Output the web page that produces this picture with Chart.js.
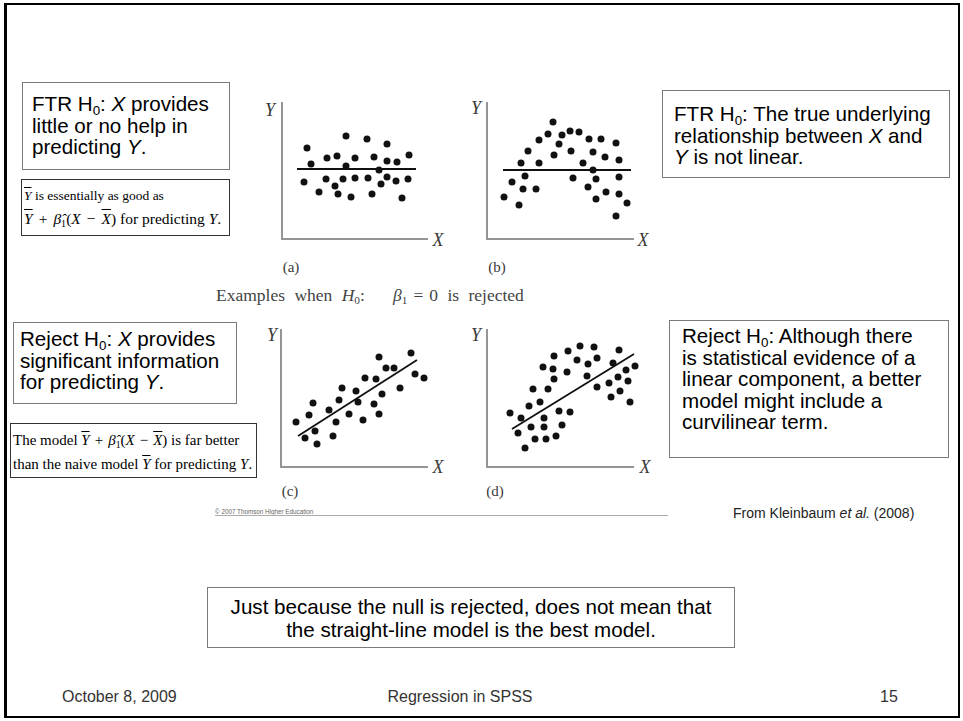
<!DOCTYPE html>
<html>
<head>
<meta charset="utf-8">
<script src="https://cdn.jsdelivr.net/npm/chart.js@4"></script>
<style>
  body { margin: 0; background: #fff; }
  #slide { position: relative; width: 963px; height: 721px; overflow: hidden; background: #fff; }
  .frame { position: absolute; left: 4px; top: 3px; width: 956px; height: 715px; box-sizing: border-box;
           border: 2px solid #000; border-left-width: 3px; }
  .box { position: absolute; box-sizing: border-box; border: 1px solid #7a7a7a; background: #fff;
         font-family: "Liberation Sans", Arial, sans-serif; font-size: 20.6px; line-height: 21.5px; color: #000; }
  .fbox { position: absolute; box-sizing: border-box; border: 1px solid #333; background: #fff;
          font-family: "Liberation Serif", "Times New Roman", serif; font-size: 15px; line-height: 24px; color: #000;
          padding-left: 2px; white-space: nowrap; }
  sub { font-size: 0.65em; vertical-align: -0.3em; line-height: 0; }
  .ov { text-decoration: overline; font-style: italic; }
  .op { margin: 0 5px; }
  .lab { position: absolute; font-family: "Liberation Serif", "Times New Roman", serif; color: #3a3a3a; white-space: nowrap; }
  .axl { font-style: italic; font-size: 18px; transform: translate(-50%, -50%); }
  .pl { font-size: 15px; transform: translate(-50%, -50%); }
  .txt { position: absolute; font-family: "Liberation Sans", Arial, sans-serif; color: #222; white-space: nowrap; }
  canvas { position: absolute; }
</style>
</head>
<body>
<div id="slide">
  <div class="frame"></div>

  <div class="box" style="left:22px;top:82px;width:208px;height:88px;padding:10px 0 0 9px;">
    FTR H<sub>0</sub>: <i>X</i> provides<br>little or no help in<br>predicting <i>Y</i>.
  </div>
  <div class="fbox" style="left:21px;top:179px;width:209px;height:57px;padding-top:4px;line-height:23px;">
    <span style="font-size:13.5px;"><span class="ov">Y</span> is essentially as good as</span><br><span style="font-size:15.5px;"><span class="ov">Y</span><span class="op" style="margin:0 6px;">+</span><i>β̂</i><sub>1</sub>(<i>X</i><span class="op" style="margin:0 6px;">−</span><span class="ov">X</span>) for predicting <i>Y</i>.</span>
  </div>

  <div class="box" style="left:662px;top:90px;width:288px;height:88px;padding:12px 0 0 11px;">
    FTR H<sub>0</sub>: The true underlying<br>relationship between <i>X</i> and<br><i>Y</i> is not linear.
  </div>

  <div class="box" style="left:13px;top:322px;width:224px;height:82px;padding:5px 0 0 6px;">
    Reject H<sub>0</sub>: <i>X</i> provides<br>significant information<br>for predicting <i>Y</i>.
  </div>
  <div class="fbox" style="left:10px;top:423px;width:247px;height:55px;padding-top:4px;font-size:15px;">
    The model <span class="ov">Y</span><span class="op">+</span><i>β̂</i><sub>1</sub>(<i>X</i><span class="op">−</span><span class="ov">X</span>) is far better<br>than the naive model <span class="ov">Y</span> for predicting <i>Y</i>.
  </div>

  <div class="box" style="left:669px;top:320px;width:280px;height:138px;padding:4px 0 0 12px;">
    Reject H<sub>0</sub>: Although there<br>is statistical evidence of a<br>linear component, a better<br>model might include a<br>curvilinear term.
  </div>

  <div class="lab" style="left:216px;top:285px;font-size:17.5px;color:#444;word-spacing:5px;">Examples when <i>H</i><sub>0</sub>:&nbsp;&nbsp; <i>β</i><sub>1</sub><span style="margin:0 6px;">=</span>0 is rejected</div>

  <div class="lab axl" style="left:270px;top:110px;">Y</div>
  <div class="lab axl" style="left:438px;top:240px;">X</div>
  <div class="lab pl" style="left:291px;top:267px;">(a)</div>
  <div class="lab axl" style="left:476px;top:108px;">Y</div>
  <div class="lab axl" style="left:643px;top:240px;">X</div>
  <div class="lab pl" style="left:497px;top:267px;">(b)</div>
  <div class="lab axl" style="left:272px;top:335px;">Y</div>
  <div class="lab axl" style="left:438px;top:467px;">X</div>
  <div class="lab pl" style="left:290px;top:491px;">(c)</div>
  <div class="lab axl" style="left:476px;top:335px;">Y</div>
  <div class="lab axl" style="left:645px;top:467px;">X</div>
  <div class="lab pl" style="left:495px;top:491px;">(d)</div>

  <div class="txt" style="left:215px;top:508px;font-size:6.3px;color:#666;">© 2007 Thomson Higher Education</div>
  <div style="position:absolute;left:215px;top:515px;width:453px;height:1px;background:#aaa;"></div>

  <div class="txt" style="left:733px;top:505px;font-size:14px;color:#222;">From Kleinbaum <i>et al.</i> (2008)</div>

  <div class="box" style="left:207px;top:587px;width:528px;height:61px;padding-top:7px;text-align:center;line-height:23px;">
    Just because the null is rejected, does not mean that<br>the straight-line model is the best model.
  </div>

  <div class="txt" style="left:62px;top:688px;font-size:16px;color:#333;">October 8, 2009</div>
  <div class="txt" style="left:460px;top:688px;font-size:16px;color:#333;transform:translateX(-50%);">Regression in SPSS</div>
  <div class="txt" style="left:880px;top:688px;font-size:16px;color:#333;">15</div>

  <canvas id="chartA"></canvas>
  <canvas id="chartB"></canvas>
  <canvas id="chartC"></canvas>
  <canvas id="chartD"></canvas>
</div>

<script>
// (a) no relationship: flat cloud
const aX = [25, 29, 22, 37, 45, 44, 55, 53, 56, 64, 64, 61, 69, 73, 73, 85, 86, 90, 92, 97, 99, 105, 105, 105, 114, 115, 120, 127, 126];
const aY = [91, 75, 57, 47, 81, 60, 83, 53, 45, 103, 73, 60, 42, 81, 61, 100, 61, 45, 82, 69, 55, 95, 78, 62, 58, 77, 41, 84, 60];
const aLineX = [15, 134];
const aLineY = [70, 70];

// (b) curved relationship, flat fit
const bX = [17, 25, 32, 34, 36, 38, 41, 49, 52, 52, 61, 66, 67, 72, 75, 83, 84, 86, 92, 96, 101, 102, 106, 106, 109, 109, 114, 118, 119, 129, 132, 132, 132, 140, 129];
const bY = [42, 57, 34, 76, 50, 63, 88, 50, 76, 99, 105, 117, 84, 95, 104, 108, 88, 61, 107, 76, 52, 100, 87, 69, 60, 40, 100, 82, 47, 96, 79, 62, 45, 36, 23];
const bLineX = [16, 144];
const bLineY = [69, 69];

// (c) linear relationship
const cX = [15, 24, 28, 32, 34, 36, 48, 52, 55, 58, 61, 68, 75, 77, 82, 84, 93, 95, 98, 98, 101, 105, 113, 119, 130, 134, 143];
const cY = [45, 29, 52, 64, 36, 23, 57, 31, 45, 67, 79, 53, 76, 65, 47, 89, 63, 88, 53, 110, 73, 99, 99, 79, 114, 93, 89];
const cLineX = [17, 136];
const cLineY = [31, 107];

// (d) curvilinear relationship, linear fit
const dX = [23, 31, 34, 38, 42, 44, 46, 48, 53, 56, 57, 57, 59, 61, 66, 67, 67, 69, 72, 75, 80, 81, 83, 90, 93, 100, 101, 107, 110, 110, 122, 124, 126, 131, 132, 133, 139, 141, 143, 148, 149, 150, 153, 160];
const dY = [54, 34, 49, 19, 61, 40, 78, 28, 65, 100, 49, 40, 28, 78, 98, 88, 111, 31, 56, 42, 95, 116, 55, 107, 121, 91, 103, 120, 109, 80, 84, 70, 104, 90, 117, 76, 97, 86, 65, 101, 80, 91, 72, 90];
const dLineX = [25, 147];
const dLineY = [38, 113];

const pad = {left: 10, right: 25, top: 10, bottom: 10};

function toPoints(xs, ys) {
    return xs.map((x, i) => ({x: x, y: ys[i]}));
}

function makePanel(id, left, top, w, h, xs, ys, lx, ly) {
    const cv = document.getElementById(id);
    cv.width = w + pad.left + pad.right;
    cv.height = h + pad.top + pad.bottom;
    cv.style.left = (left - pad.left) + 'px';
    cv.style.top = (top - pad.top) + 'px';

    const axisOpts = (max) => ({
        type: 'linear',
        min: 0,
        max: max,
        ticks: {display: false},
        grid: {display: false, drawTicks: false},
        border: {display: true, color: '#959595', width: 2}
    });

    new Chart(cv.getContext('2d'), {
        type: 'scatter',
        data: {
            datasets: [
                {
                    data: toPoints(xs, ys),
                    pointRadius: 3.5,
                    pointBackgroundColor: '#111',
                    pointBorderWidth: 0,
                    clip: false
                },
                {
                    type: 'line',
                    data: toPoints(lx, ly),
                    borderColor: '#111',
                    borderWidth: 1.8,
                    pointRadius: 0,
                    fill: false,
                    clip: false
                }
            ]
        },
        options: {
            responsive: false,
            animation: false,
            events: [],
            layout: {padding: pad},
            scales: {
                x: axisOpts(w),
                y: axisOpts(h)
            },
            plugins: {
                legend: {display: false},
                tooltip: {enabled: false}
            }
        }
    });
}

makePanel('chartA', 282, 103, 145, 136, aX, aY, aLineX, aLineY);
makePanel('chartB', 487, 103, 146, 136, bX, bY, bLineX, bLineY);
makePanel('chartC', 281, 330, 146, 137, cX, cY, cLineX, cLineY);
makePanel('chartD', 487, 330, 146, 137, dX, dY, dLineX, dLineY);
</script>
</body>
</html>
